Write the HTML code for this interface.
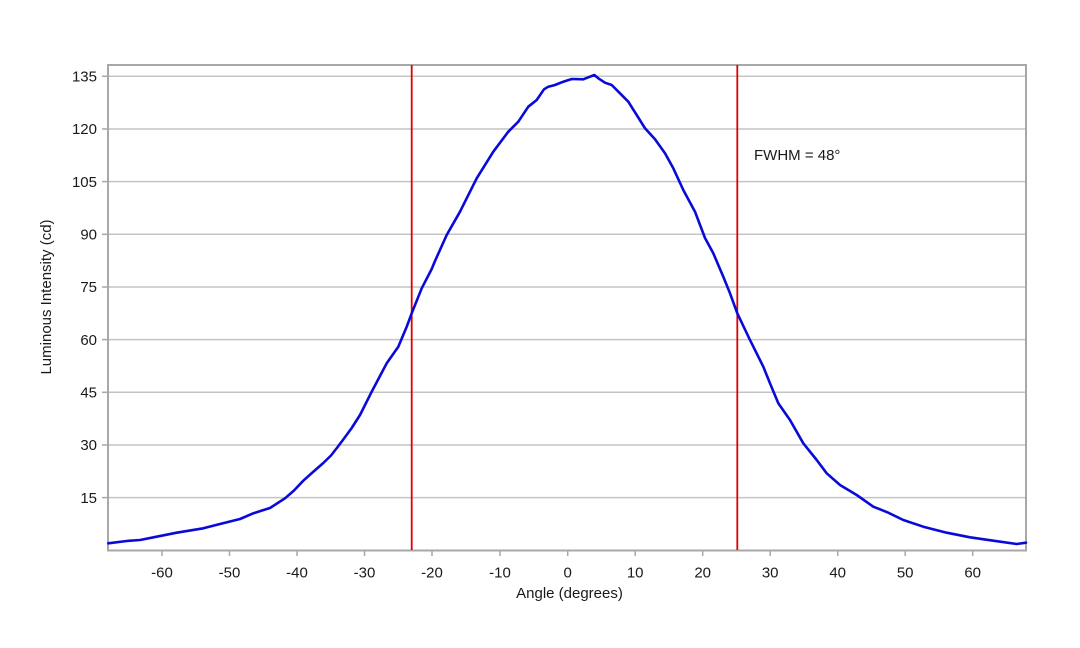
<!DOCTYPE html>
<html><head><meta charset="utf-8"><style>
html,body{margin:0;padding:0;background:#fff;}
svg{display:block;}
text{font-family:"Liberation Sans",Arial,sans-serif;fill:#1a1a1a;}
</style></head><body>
<svg width="1080" height="648" viewBox="0 0 1080 648" xmlns="http://www.w3.org/2000/svg">
<rect width="1080" height="648" fill="#fff"/>
<g stroke="#c4c4c4" stroke-width="1.5">
<line x1="108" y1="76.3" x2="1026" y2="76.3"/>
<line x1="108" y1="129" x2="1026" y2="129"/>
<line x1="108" y1="181.6" x2="1026" y2="181.6"/>
<line x1="108" y1="234.3" x2="1026" y2="234.3"/>
<line x1="108" y1="287" x2="1026" y2="287"/>
<line x1="108" y1="339.6" x2="1026" y2="339.6"/>
<line x1="108" y1="392.3" x2="1026" y2="392.3"/>
<line x1="108" y1="445" x2="1026" y2="445"/>
<line x1="108" y1="497.6" x2="1026" y2="497.6"/>
</g>
<g stroke="#a8a8a8" stroke-width="2" fill="none">
<rect x="108" y="65" width="918" height="485.5"/>
</g>
<g stroke="#a8a8a8" stroke-width="1.5">
<line x1="102" y1="76.3" x2="108" y2="76.3"/>
<line x1="102" y1="129" x2="108" y2="129"/>
<line x1="102" y1="181.6" x2="108" y2="181.6"/>
<line x1="102" y1="234.3" x2="108" y2="234.3"/>
<line x1="102" y1="287" x2="108" y2="287"/>
<line x1="102" y1="339.6" x2="108" y2="339.6"/>
<line x1="102" y1="392.3" x2="108" y2="392.3"/>
<line x1="102" y1="445" x2="108" y2="445"/>
<line x1="102" y1="497.6" x2="108" y2="497.6"/>
<line x1="162" y1="550" x2="162" y2="556"/>
<line x1="229.5" y1="550" x2="229.5" y2="556"/>
<line x1="297" y1="550" x2="297" y2="556"/>
<line x1="364.5" y1="550" x2="364.5" y2="556"/>
<line x1="432" y1="550" x2="432" y2="556"/>
<line x1="500" y1="550" x2="500" y2="556"/>
<line x1="567.7" y1="550" x2="567.7" y2="556"/>
<line x1="635.2" y1="550" x2="635.2" y2="556"/>
<line x1="702.7" y1="550" x2="702.7" y2="556"/>
<line x1="770.2" y1="550" x2="770.2" y2="556"/>
<line x1="837.7" y1="550" x2="837.7" y2="556"/>
<line x1="905.2" y1="550" x2="905.2" y2="556"/>
<line x1="972.7" y1="550" x2="972.7" y2="556"/>
</g>
<g font-size="15" text-anchor="end">
<text x="97" y="81.5">135</text>
<text x="97" y="134.2">120</text>
<text x="97" y="186.8">105</text>
<text x="97" y="239.5">90</text>
<text x="97" y="292.2">75</text>
<text x="97" y="344.8">60</text>
<text x="97" y="397.5">45</text>
<text x="97" y="450.2">30</text>
<text x="97" y="502.8">15</text>
</g>
<g font-size="15" text-anchor="middle">
<text x="162" y="577.5">-60</text>
<text x="229.5" y="577.5">-50</text>
<text x="297" y="577.5">-40</text>
<text x="364.5" y="577.5">-30</text>
<text x="432" y="577.5">-20</text>
<text x="500" y="577.5">-10</text>
<text x="567.7" y="577.5">0</text>
<text x="635.2" y="577.5">10</text>
<text x="702.7" y="577.5">20</text>
<text x="770.2" y="577.5">30</text>
<text x="837.7" y="577.5">40</text>
<text x="905.2" y="577.5">50</text>
<text x="972.7" y="577.5">60</text>
</g>
<text x="569.5" y="598" font-size="15" text-anchor="middle">Angle (degrees)</text>
<text transform="translate(51,297) rotate(-90)" font-size="15" text-anchor="middle">Luminous Intensity (cd)</text>
<text x="754" y="160" font-size="15">FWHM = 48°</text>
<g stroke="#e00000" stroke-width="1.8">
<line x1="411.7" y1="65" x2="411.7" y2="550"/>
<line x1="737.3" y1="65" x2="737.3" y2="550"/>
</g>
<polyline fill="none" stroke="#0a0ad8" stroke-width="2.6" stroke-linejoin="round" stroke-linecap="round" points="
108.3,543.3 126.7,541 140,540 156.7,536.7 176.7,532.7 203.3,528.3 220,524 240,519 253.3,513.3 262,510.5 270,508 285,498.3 294,490.5 303.3,480.7 313,472 323.3,463 331,455.5 338,446.5 344,438.5 351.7,428 360,415 371.7,391.7 386.7,363.3 398.3,346.7 406.7,326.7 411.7,313.3 421.7,288.3 431.7,269 435,261 446.7,235 460,211.7 476.7,178.3 493.3,151.7 508.3,131.7 518.3,121.7 528.3,106.7 536.7,100 544,89.3 548.3,86.7 555,85 563.3,81.7 571.7,79 583.3,79.3 588.3,77.3 594.3,75 598.3,78.3 605,82.7 611.7,85 620,93.3 628.3,101.7 636.7,115 645,128.3 655,139.3 665,153.3 673.3,168.3 683.3,190 695,211.7 705,238 713.3,253.3 723.3,276.7 730,293.3 737.3,313.3 750,340 763.3,366.7 770,383.3 778.3,403.3 790,420 803.3,443.3 816.7,460 826.7,473.3 840,485 856.7,495 873.3,506.7 880,509.3 888.3,512.7 903.3,520 923.3,526.7 946.7,532.7 970,537.3 993.3,540.7 1016.7,544 1026,542.7"/>
</svg>
</body></html>
